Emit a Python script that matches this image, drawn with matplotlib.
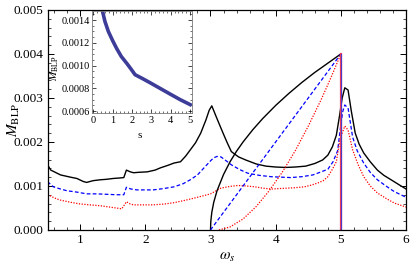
import matplotlib
matplotlib.use("Agg")
import matplotlib.pyplot as plt
from matplotlib.ticker import MultipleLocator

plt.rcParams['font.family'] = ['Liberation Serif', 'DejaVu Serif']
plt.rcParams['mathtext.fontset'] = 'stix'

# ---- data: main curves (omega_s, M_BLP) ----
black_x = [0.5, 0.55, 0.7, 0.85, 0.95, 1.05, 1.1, 1.2, 1.31, 1.4, 1.51, 1.6, 1.67, 1.71, 1.77, 1.82, 1.9,
           2.03, 2.15, 2.23, 2.35, 2.44, 2.54, 2.62, 2.69, 2.77, 2.85, 2.93, 2.98, 3.02, 3.08, 3.15, 3.21,
           3.26, 3.32, 3.43, 3.54, 3.7, 3.85, 4.0, 4.15, 4.3, 4.46, 4.6, 4.72, 4.8, 4.87, 4.93, 4.98, 5.02,
           5.06, 5.11, 5.16, 5.22, 5.28, 5.35, 5.45, 5.56, 5.66, 5.77, 5.9, 6.0]
black_y = [0.00148, 0.00136, 0.00125, 0.0012, 0.00117, 0.0011, 0.00108, 0.00112, 0.00114, 0.00115, 0.00117,
           0.00118, 0.00119, 0.00136, 0.00132, 0.0013, 0.00131, 0.00132, 0.00136, 0.00141, 0.00147, 0.00152,
           0.00155, 0.00168, 0.00182, 0.00198, 0.0022, 0.0025, 0.00272, 0.00282, 0.0026, 0.00235, 0.00214,
           0.00197, 0.00178, 0.00166, 0.00159, 0.0015, 0.00145, 0.00143, 0.00142, 0.00143, 0.00145, 0.00151,
           0.00159, 0.0017, 0.00189, 0.00215, 0.0026, 0.003, 0.00323, 0.00318, 0.0027, 0.0022, 0.00195,
           0.00175, 0.00155, 0.00136, 0.00124, 0.00114, 0.00102, 0.00093]

blue_x = [0.5, 0.55, 0.59, 0.7, 0.8, 0.95, 1.1, 1.25, 1.41, 1.55, 1.67, 1.71, 1.78, 1.87, 2.0, 2.12, 2.28,
          2.44, 2.58, 2.69, 2.8, 2.9, 3.0, 3.05, 3.1, 3.16, 3.25, 3.32, 3.45, 3.57, 3.75, 3.93, 4.08, 4.23,
          4.4, 4.57, 4.68, 4.8, 4.88, 4.95, 5.0, 5.03, 5.06, 5.11, 5.18, 5.25, 5.35, 5.45, 5.56, 5.7, 5.82,
          5.92, 6.0]
blue_y = [0.0011, 0.00103, 0.00098, 0.00093, 0.00089, 0.00086, 0.00082, 0.00082, 0.00081, 0.0008, 0.0008,
          0.00097, 0.00093, 0.00091, 0.00091, 0.00091, 0.00094, 0.00098, 0.00105, 0.00114, 0.00125, 0.00141,
          0.00157, 0.00164, 0.00167, 0.00166, 0.00156, 0.00148, 0.00137, 0.00129, 0.00124, 0.00121, 0.0012,
          0.00119, 0.00121, 0.00125, 0.00131, 0.00138, 0.00155, 0.0018, 0.0024, 0.0027, 0.00284, 0.00277,
          0.00211, 0.0018, 0.00152, 0.00131, 0.00114, 0.00099, 0.00087, 0.0008, 0.00074]

red_x = [0.5, 0.6, 0.69, 0.85, 1.0, 1.15, 1.31, 1.5, 1.64, 1.71, 1.77, 1.82, 2.0, 2.12, 2.3, 2.44, 2.6, 2.74,
         2.9, 3.0, 3.16, 3.3, 3.42, 3.55, 3.68, 3.8, 3.93, 4.05, 4.18, 4.3, 4.44, 4.55, 4.65, 4.73, 4.8, 4.87,
         4.93, 4.98, 5.02, 5.06, 5.11, 5.18, 5.26, 5.35, 5.45, 5.56, 5.7, 5.82, 5.92, 6.0]
red_y = [0.00081, 0.00073, 0.00068, 0.00063, 0.00059, 0.00057, 0.00055, 0.00051, 0.00048, 0.00064, 0.00059,
         0.00057, 0.00057, 0.00057, 0.00059, 0.00062, 0.00067, 0.00072, 0.00078, 0.00082, 0.00095, 0.00099,
         0.00101, 0.001, 0.00098, 0.00095, 0.00093, 0.00094, 0.00095, 0.00096, 0.00098, 0.00102, 0.00107,
         0.00112, 0.00121, 0.00138, 0.00155, 0.002, 0.0022, 0.00236, 0.00227, 0.00182, 0.0015, 0.00121,
         0.001, 0.00084, 0.00071, 0.00061, 0.00056, 0.00052]

# ---- threshold curves ----
thr_black_x = [3.0, 3.005, 3.02, 3.05, 3.1, 3.2, 3.3, 3.4, 3.5, 3.65, 3.8, 4.0, 4.2, 4.4, 4.6, 4.8, 5.0]
thr_black_y = [0.0, 0.0002, 0.0004, 0.00063, 0.00089, 0.00126, 0.00155, 0.00179, 0.002, 0.00228, 0.00253,
               0.00283, 0.0031, 0.00335, 0.00358, 0.00379, 0.004]
thr_blue_x = [3.0, 3.5, 4.0, 4.5, 5.0]
thr_blue_y = [0.0, 0.001, 0.002, 0.003, 0.004]
thr_red_x = [3.13, 3.3, 3.5, 3.7, 3.9, 4.1, 4.3, 4.5, 4.7, 4.85, 5.0]
thr_red_y = [0.0, 0.000068, 0.00025, 0.00053, 0.00089, 0.00131, 0.0018, 0.00236, 0.00297, 0.00347, 0.004]
wall_x = [5.0, 5.0]
wall_y = [0.0, 0.004]

# ---- inset data ----
inset_s = [0.45, 0.6, 0.78, 1.0, 1.21, 1.45, 1.73, 1.95, 2.16, 2.5, 2.93, 3.45, 3.97, 4.5, 5.09]
inset_m = [0.00150, 0.00139, 0.0013, 0.00122, 0.00115, 0.00108, 0.00102, 0.00097, 0.00092, 0.00089,
           0.00085, 0.0008, 0.00075, 0.0007, 0.00065]

fig = plt.figure(figsize=(4.15, 2.68), dpi=100)
ax = fig.add_axes([0.1145, 0.142, 0.864, 0.821])

ax.plot(black_x, black_y, color='black', lw=1.0)
ax.plot(blue_x, blue_y, color='blue', lw=0.9, dashes=(3, 1.8))
ax.plot(red_x, red_y, color='red', lw=0.9, dashes=(1, 1.2))
ax.plot(thr_black_x, thr_black_y, color='black', lw=1.0)
ax.plot(thr_blue_x, thr_blue_y, color='blue', lw=0.9, dashes=(3, 1.8))
ax.plot(thr_red_x, thr_red_y, color='red', lw=0.9, dashes=(1, 1.2))
ax.plot(wall_x, wall_y, color='#f03c5a', lw=1.6)
ax.plot(wall_x, wall_y, color='#4a3cc8', lw=0.8)

ax.set_xlim(0.5, 6.0)
ax.set_ylim(0, 0.005)
ax.xaxis.set_major_locator(MultipleLocator(1))
ax.xaxis.set_minor_locator(MultipleLocator(0.2))
ax.yaxis.set_major_locator(MultipleLocator(0.001))
ax.yaxis.set_minor_locator(MultipleLocator(0.0002))
ax.yaxis.set_major_formatter(matplotlib.ticker.FormatStrFormatter('%.3f'))
ax.tick_params(which='both', direction='in', top=True, right=True, labelsize=9.5, pad=3)
ax.tick_params(which='major', length=4, width=0.7)
ax.tick_params(which='minor', length=2, width=0.5)
for sp in ax.spines.values():
    sp.set_linewidth(0.9)
ax.set_xlabel(r'$\omega_s$', fontsize=11)
ax.xaxis.set_label_coords(0.5, -0.095)
ax.set_ylabel(r'$M_{\rm BLP}$', fontsize=11)
ax.yaxis.set_label_coords(-0.072, 0.5)

ins = fig.add_axes([0.2224, 0.577, 0.241, 0.382])
ins.plot(inset_s, inset_m, color='#3d3d99', lw=2.6, solid_capstyle='butt')
ins.set_xlim(-0.05, 5.12)
ins.set_ylim(0.00058, 0.00148)
ins.xaxis.set_major_locator(MultipleLocator(1))
ins.xaxis.set_minor_locator(MultipleLocator(0.2))
ins.yaxis.set_major_locator(MultipleLocator(0.0002))
ins.yaxis.set_minor_locator(MultipleLocator(0.00005))
ins.yaxis.set_major_formatter(matplotlib.ticker.FormatStrFormatter('%.4f'))
ins.tick_params(which='both', direction='in', top=True, right=True, labelsize=7.5, pad=2)
ins.tick_params(which='major', length=3, width=0.5)
ins.tick_params(which='minor', length=1.5, width=0.4)
for sp in ins.spines.values():
    sp.set_linewidth(0.6)
    sp.set_color('#777777')
ins.set_xlabel('s', fontsize=8)
ins.xaxis.set_label_coords(0.47, -0.17)
ins.set_ylabel(r'$M_{\rm BLP}$', fontsize=8)
ins.yaxis.set_label_coords(-0.315, 0.44)

fig.savefig('out.png', dpi=100)
